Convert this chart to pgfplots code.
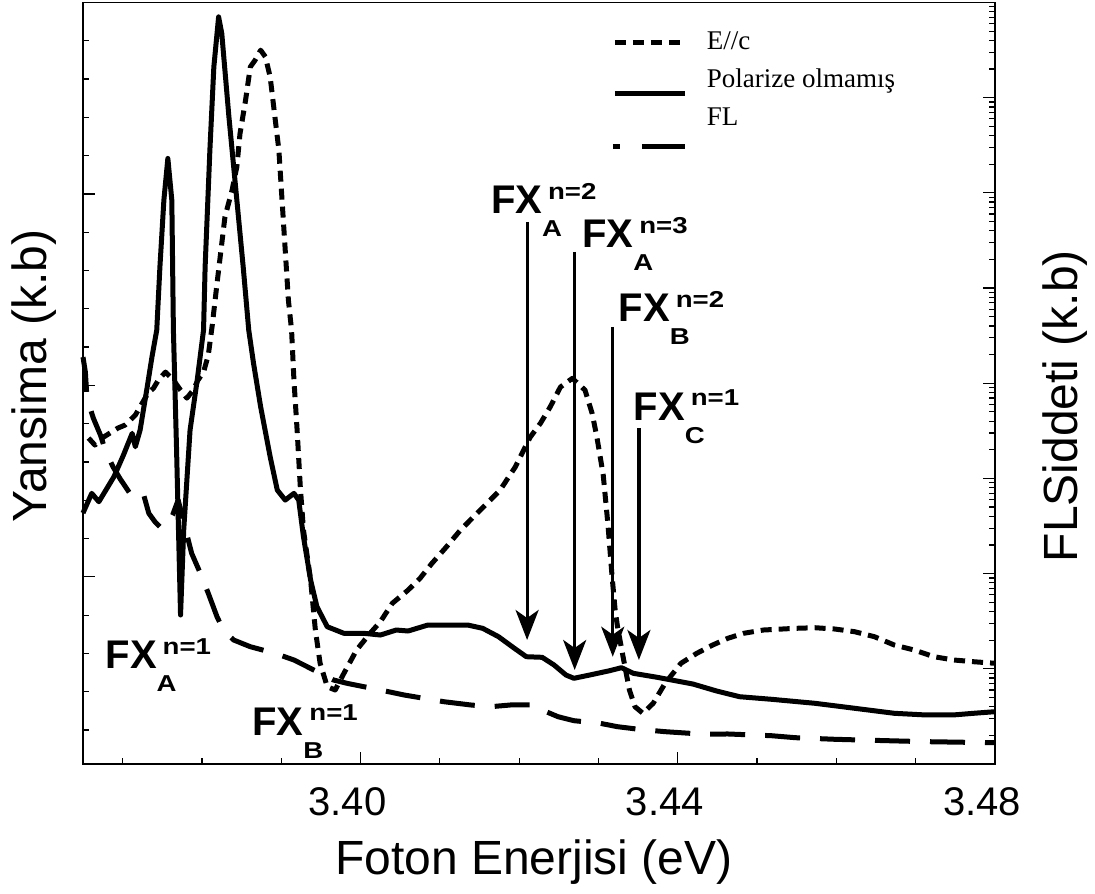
\documentclass[border=0pt]{standalone}
\usepackage{fontspec}
\setmainfont{Liberation Sans}
\newfontfamily\legfont{Liberation Serif}
\usepackage{graphicx}
\usepackage{pgfplots}
\usepackage{pgfplotstable}
\pgfplotsset{compat=1.18}
\usetikzlibrary{arrows.meta}

\newcommand{\scr}[1]{\scalebox{1.2}[1]{\fontsize{11.5}{11.5}\selectfont\bfseries #1}}
\newcommand{\FX}[2]{\textbf{FX}\rlap{\raisebox{7.1pt}{\hspace{3pt}\scr{#1}}}\raisebox{-11.5pt}{\scr{#2}}}

\pgfplotstableread{
x v
3.3657 8.624
3.3665 8.441
3.3676 8.650
3.3684 8.755
3.3694 8.885
3.3703 8.963
3.3716 9.225
3.3732 9.799
3.3739 9.930
3.3745 10.138
3.3754 10.347
3.3764 10.138
3.3773 9.877
3.3781 9.668
3.3789 9.877
3.3795 10.138
3.3802 10.347
3.3808 10.791
3.3813 11.574
3.3819 12.663
3.3829 14.402
3.3838 15.099
3.3844 15.708
3.3848 16.580
3.3855 17.449
3.3861 18.319
3.3867 18.493
3.3874 18.755
3.3880 18.580
3.3886 18.057
3.3892 17.013
3.3897 16.144
3.3901 14.838
3.3905 13.533
3.3909 12.227
3.3913 11.444
3.3916 10.138
3.3920 8.833
3.3924 7.352
3.3928 6.222
3.3937 4.916
3.3943 3.611
3.3949 2.742
3.3958 2.131
3.3968 2.044
3.3979 2.480
3.3995 3.089
3.4012 3.525
3.4025 3.828
3.4040 4.308
3.4060 4.655
3.4075 4.961
3.4090 5.352
3.4107 5.752
3.4126 6.222
3.4151 6.744
3.4176 7.266
3.4195 7.867
3.4214 8.650
3.4227 9.016
3.4239 9.433
3.4252 9.956
3.4267 10.183
3.4283 9.877
3.4292 9.269
3.4298 8.650
3.4306 7.658
3.4312 6.352
3.4317 5.047
3.4321 4.133
3.4324 3.697
3.4331 2.914
3.4339 2.044
3.4346 1.608
3.4356 1.436
3.4369 1.697
3.4384 2.219
3.4404 2.742
3.4424 3.003
3.4444 3.219
3.4463 3.394
3.4483 3.525
3.4508 3.611
3.4548 3.655
3.4573 3.671
3.4598 3.637
3.4623 3.567
3.4648 3.436
3.4673 3.219
3.4698 3.089
3.4723 2.914
3.4748 2.828
3.4773 2.783
3.4800 2.742
}\epar

\pgfplotstableread{
x v
3.3650 6.666
3.3661 7.180
3.3670 6.961
3.3689 7.614
3.3701 8.180
3.3712 8.747
3.3716 8.397
3.3722 8.833
3.3731 9.963
3.3737 10.747
3.3743 11.444
3.3747 13.097
3.3752 14.838
3.3757 15.927
3.3762 14.838
3.3764 11.444
3.3768 8.311
3.3773 4.003
3.3777 6.222
3.3785 8.833
3.3794 10.138
3.3802 11.444
3.3804 13.097
3.3810 16.144
3.3815 18.319
3.3821 19.624
3.3825 19.191
3.3834 17.013
3.3844 14.838
3.3852 13.097
3.3859 11.444
3.3865 10.582
3.3874 9.441
3.3886 8.136
3.3895 7.266
3.3905 7.005
3.3916 7.180
3.3922 7.005
3.3928 6.047
3.3937 4.916
3.3945 4.219
3.3958 3.697
3.3979 3.525
3.4004 3.525
3.4025 3.480
3.4045 3.611
3.4060 3.585
3.4085 3.742
3.4135 3.742
3.4154 3.655
3.4174 3.436
3.4194 3.133
3.4209 2.914
3.4229 2.898
3.4244 2.697
3.4259 2.436
3.4269 2.350
3.4289 2.436
3.4314 2.548
3.4329 2.627
3.4344 2.480
3.4374 2.376
3.4419 2.201
3.4449 2.018
3.4478 1.869
3.4518 1.802
3.4573 1.697
3.4623 1.567
3.4673 1.436
3.4713 1.392
3.4747 1.392
3.4773 1.436
3.4800 1.478
}\unpol

\pgfplotstableread{
x v
3.3650 10.739
3.3653 10.347
3.3655 9.668
3.3663 9.146
3.3672 8.702
3.3679 8.258
3.3688 7.867
3.3697 7.554
3.3712 7.091
3.3726 7.180
3.3733 6.658
3.3741 6.431
3.3747 6.308
3.3755 6.300
3.3763 6.614
3.3770 7.005
3.3778 6.352
3.3787 5.614
3.3798 5.091
3.3808 4.569
3.3819 3.958
3.3827 3.611
3.3840 3.350
3.3861 3.175
3.3892 3.003
3.3916 2.828
3.3941 2.567
3.3966 2.305
3.3983 2.219
3.4025 2.044
3.4055 1.914
3.4105 1.739
3.4139 1.653
3.4164 1.608
3.4189 1.653
3.4222 1.653
3.4234 1.478
3.4249 1.347
3.4269 1.243
3.4302 1.175
3.4324 1.086
3.4351 1.018
3.4384 0.956
3.4434 0.888
3.4463 0.896
3.4518 0.851
3.4548 0.799
3.4598 0.757
3.4630 0.739
3.4678 0.713
3.4713 0.695
3.4763 0.679
3.4800 0.668
}\fl

\begin{document}
\begin{tikzpicture}
\begin{axis}[
  scale only axis, width=456pt, height=380.75pt,
  xmin=3.365, xmax=3.48, ymin=0.112, ymax=20,
  clip=false,
  axis line style={line width=0.6pt},
  every tick/.style={line width=0.6pt, black},
  tick align=inside,
  major tick length=6pt, minor tick length=3pt,
  xtick pos=left, ytick pos=left,
  xtick={3.40,3.44,3.48},
  minor xtick={3.37,3.38,3.39,3.41,3.42,3.43,3.45,3.46,3.47},
  scaled x ticks=false,
  /pgf/number format/assume math mode=true,
  x tick label style={/pgf/number format/fixed, /pgf/number format/fixed zerofill, /pgf/number format/precision=2,
    font=\fontsize{20}{20}\selectfont, inner sep=0pt, anchor=north, yshift=-11.35pt, xshift=-6.5pt},
  ytick={5,10,15}, minor ytick={1,2,...,19}, yticklabels={},
  xlabel={Foton Enerjisi (eV)},
  ylabel={Yansima (k.b)},
  every axis x label/.style={at={(axis description cs:0.4945,-0.1445)}, anchor=base, font=\fontsize{24}{24}\selectfont},
  every axis y label/.style={at={(axis description cs:-0.0395,0.5095)}, rotate=90, anchor=base, font=\fontsize{24}{24}\selectfont},
  legend style={draw=none, fill=none, at={(axis description cs:0.5833,0.9635)}, anchor=north west,
    inner sep=0pt, outer sep=0pt, row sep=6.5pt, column sep=11pt,
    font=\legfont\fontsize{13.5}{13.5}\selectfont,
    nodes={inner sep=0pt, text height=9.5pt, text depth=3pt}},
  legend cell align=left,
]
\addplot[black, line width=2.5pt, line join=round, dash pattern=on 5.5pt off 3.5pt,
  legend image code/.code={\path[draw=none] (0pt,0pt) -- (35pt,0pt); \draw[black, line width=2.5pt, dash pattern=on 5.5pt off 3.5pt, overlay] (0pt,0pt) -- (35pt,0pt);}]
  table[x=x, y=v] {\epar};
\addlegendentry{E//c}
\addplot[black, line width=2.5pt, line join=round,
  legend image code/.code={\path[draw=none] (0pt,0pt) -- (35pt,0pt); \draw[black, line width=2.5pt, solid, overlay] (0pt,-6.4pt) -- (35pt,-6.4pt);}]
  table[x=x, y=v] {\unpol};
\addlegendentry{Polarize olmamış}
\addplot[black, line width=2.5pt, line join=round, dash pattern=on 17.5pt off 10pt,
  legend image code/.code={\path[draw=none] (0pt,0pt) -- (35pt,0pt); \draw[black, line width=2.5pt, solid, overlay] (-1pt,-13.75pt) -- (2.5pt,-13.75pt); \draw[black, line width=2.5pt, solid, overlay] (13.5pt,-13.75pt) -- (35pt,-13.75pt);}]
  table[x=x, y=v] {\fl};
\addlegendentry{FL}

\begin{scope}[font=\fontsize{20}{20}\selectfont]
\node[anchor=base west, inner sep=0pt] at (axis cs:3.3678,2.593) {\FX{n=1}{A}};
\node[anchor=base west, inner sep=0pt] at (axis cs:3.3863,0.869) {\FX{n=1}{B}};
\node[anchor=base west, inner sep=0pt] at (axis cs:3.4164,14.491) {\FX{n=2}{A}};
\node[anchor=base west, inner sep=0pt] at (axis cs:3.4279,13.603) {\FX{n=3}{A}};
\node[anchor=base west, inner sep=0pt] at (axis cs:3.4325,11.661) {\FX{n=2}{B}};
\node[anchor=base west, inner sep=0pt] at (axis cs:3.4344,9.094) {\FX{n=1}{C}};
\end{scope}
\begin{scope}[line width=1.6pt, -{Stealth[length=15pt, width=11.5pt, inset=4pt]}]
\draw (axis cs:3.4210,14.272) -- (axis cs:3.4210,3.350);
\draw (axis cs:3.4270,13.488) -- (axis cs:3.4270,2.567);
\draw (axis cs:3.4318,11.530) -- (axis cs:3.4318,2.914);
\draw (axis cs:3.4351,8.885) -- (axis cs:3.4351,2.828);
\end{scope}
\end{axis}

\begin{axis}[
  scale only axis, width=456pt, height=380.75pt,
  xmin=3.365, xmax=3.48, ymode=log, ymin=1, ymax=1e8,
  axis x line=none, axis y line*=right,
  axis line style={line width=0.6pt},
  every tick/.style={line width=0.6pt, black},
  tick align=inside,
  major tick length=6pt, minor tick length=3pt,
  ytick={1,1e1,1e2,1e3,1e4,1e5,1e6,1e7,1e8},
  minor ytick={2,3,4,5,6,7,8,9,20,30,40,50,60,70,80,90,200,300,400,500,600,700,800,900,
    2e3,3e3,4e3,5e3,6e3,7e3,8e3,9e3,2e4,3e4,4e4,5e4,6e4,7e4,8e4,9e4,
    2e5,3e5,4e5,5e5,6e5,7e5,8e5,9e5,2e6,3e6,4e6,5e6,6e6,7e6,8e6,9e6,
    2e7,3e7,4e7,5e7,6e7,7e7,8e7,9e7},
  yticklabels={},
  ylabel={FLSiddeti (k.b)},
  every axis y label/.style={at={(axis description cs:1.0899,0.470)}, rotate=90, anchor=base, font=\fontsize{24}{24}\selectfont},
]
\end{axis}
\pgfresetboundingbox
\path[use as bounding box] ([shift={(-41.5pt,-65pt)}]current axis.south west) rectangle ([shift={(50pt,1.25pt)}]current axis.north east);
\end{tikzpicture}
\end{document}
